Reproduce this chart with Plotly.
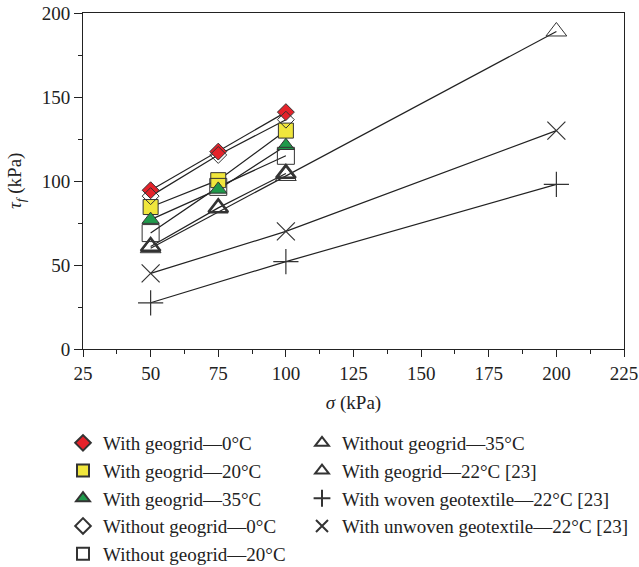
import plotly.graph_objects as go

sigma3 = [50, 75, 100]
sigma_ref = [50, 100, 200]

geogrid_0 = [94.5, 117.5, 141]
geogrid_20 = [84.5, 100.5, 130]
geogrid_35 = [77, 95, 121]
without_0 = [91, 115.5, 136.5]
without_20 = [69, 96.5, 115]
without_35 = [61, 84, 104.5]
geogrid_22_ref = [60, 103, 189]
woven_22_ref = [27.5, 52, 98]
unwoven_22_ref = [45, 70, 130]

labels = [
    "With geogrid\u20140\u00b0C",
    "With geogrid\u201420\u00b0C",
    "With geogrid\u201435\u00b0C",
    "Without geogrid\u20140\u00b0C",
    "Without geogrid\u201420\u00b0C",
    "Without geogrid\u201435\u00b0C",
    "With geogrid\u201422\u00b0C [23]",
    "With woven geotextile\u201422\u00b0C [23]",
    "With unwoven geotextile\u201422\u00b0C [23]",
]

EDGE = "#333333"
series = [
    (sigma3, geogrid_0, labels[0], "legend", dict(symbol="diamond", size=13, color="#e5222a", line=dict(color=EDGE, width=1))),
    (sigma3, geogrid_20, labels[1], "legend", dict(symbol="square", size=15, color="#f0e63c", line=dict(color=EDGE, width=1))),
    (sigma3, geogrid_35, labels[2], "legend", dict(symbol="triangle-up", size=15, color="#1f9a4b", line=dict(color=EDGE, width=1))),
    (sigma3, without_0, labels[3], "legend", dict(symbol="diamond-open", size=13, color=EDGE, line=dict(color=EDGE, width=1))),
    (sigma3, without_20, labels[4], "legend", dict(symbol="square-open", size=17, color=EDGE, line=dict(color=EDGE, width=1))),
    (sigma3, without_35, labels[5], "legend2", dict(symbol="triangle-up-open", size=17, color=EDGE, line=dict(color=EDGE, width=2.5))),
    (sigma_ref, geogrid_22_ref, labels[6], "legend2", dict(symbol="triangle-up-open", size=18, color=EDGE, line=dict(color=EDGE, width=1))),
    (sigma_ref, woven_22_ref, labels[7], "legend2", dict(symbol="cross-thin-open", size=18, color=EDGE, line=dict(color=EDGE, width=1.2))),
    (sigma_ref, unwoven_22_ref, labels[8], "legend2", dict(symbol="x-thin-open", size=18, color=EDGE, line=dict(color=EDGE, width=1.2))),
]

fig = go.Figure()
for xs, ys, name, lg, mk in series:
    fig.add_trace(go.Scatter(x=xs, y=ys, mode="lines", line=dict(color="#222222", width=1.2),
                             showlegend=False, hoverinfo="skip"))
for xs, ys, name, lg, mk in series:
    fig.add_trace(go.Scatter(x=xs, y=ys, mode="markers", name=name, marker=mk, legend=lg))

FONT = "Liberation Serif, Times New Roman, serif"
legend_common = dict(orientation="v", xref="container", xanchor="left",
                     yref="container", yanchor="top", itemsizing="constant",
                     font=dict(family=FONT, size=19, color="#222222"),
                     tracegroupgap=0, itemwidth=30, bgcolor="rgba(0,0,0,0)")
fig.update_layout(
    width=639, height=567,
    margin=dict(l=83, r=15, t=13, b=218, autoexpand=False),
    paper_bgcolor="white", plot_bgcolor="white",
    font=dict(family=FONT, size=19, color="#222222"),
    showlegend=True,
    legend=dict(x=63 / 639, y=1 - 424 / 567, **legend_common),
    legend2=dict(x=302 / 639, y=1 - 424 / 567, **legend_common),
    xaxis=dict(range=[25, 225], tickvals=[25, 50, 75, 100, 125, 150, 175, 200, 225],
               ticks="outside", ticklen=7, tickwidth=1, tickcolor="#222", automargin=False,
               minor=dict(tickvals=[37.5, 62.5, 87.5, 112.5, 137.5, 162.5, 187.5, 212.5],
                          ticks="outside", ticklen=4, tickcolor="#222"),
               showgrid=False, zeroline=False, showline=True, linecolor="#222", linewidth=1,
               mirror=True,
               title=dict(text="<i>σ</i> (kPa)", font=dict(family=FONT, size=19), standoff=12)),
    yaxis=dict(range=[0, 200], tickvals=[0, 50, 100, 150, 200],
               ticks="outside", ticklen=8, tickwidth=1, tickcolor="#222", automargin=False,
               minor=dict(tickvals=[25, 75, 125, 175], ticks="outside", ticklen=4, tickcolor="#222"),
               showgrid=False, zeroline=False, showline=True, linecolor="#222", linewidth=1,
               mirror=True),
    annotations=[dict(text="<i>τ</i><sub><i>f</i></sub> (kPa)", textangle=-90,
                      xref="paper", yref="paper", x=(16 - 83) / 541, y=0.5,
                      xanchor="center", yanchor="middle", showarrow=False,
                      font=dict(family=FONT, size=19, color="#222222"))],
)

fig.write_html("out.html")
